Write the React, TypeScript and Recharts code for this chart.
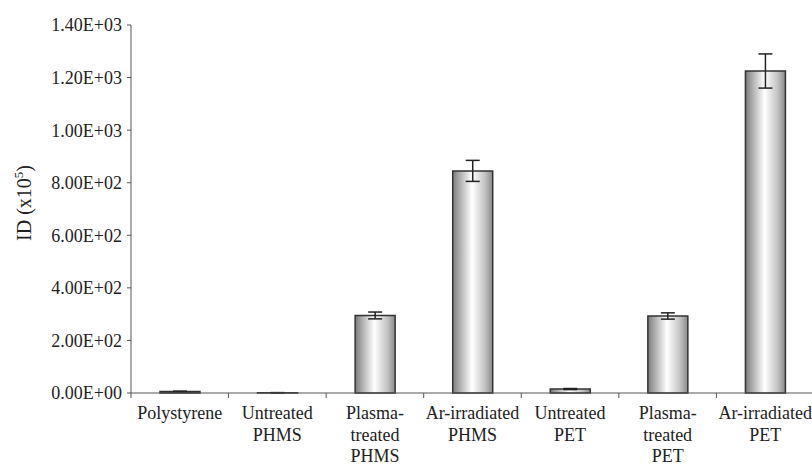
import React from 'react';
import { BarChart, Bar, XAxis, YAxis, ErrorBar } from 'recharts';

const categories = [
  'Polystyrene',
  'Untreated\nPHMS',
  'Plasma-\ntreated\nPHMS',
  'Ar-irradiated\nPHMS',
  'Untreated\nPET',
  'Plasma-\ntreated\nPET',
  'Ar-irradiated\nPET',
];
const idValues = [6, 1, 295, 845, 15, 293, 1225];
const idErrors = [1, 0.5, 13, 40, 2, 12, 65];
const yTicks = [0, 200, 400, 600, 800, 1000, 1200, 1400];

const data = categories.map((name, i) => ({ name, id: idValues[i], err: idErrors[i] }));

const CHART_W = 814;
const CHART_H = 466;
const AXIS_W = 131;
const BAND = (CHART_W - AXIS_W) / categories.length;
const FONT = '"Liberation Serif", "Times New Roman", serif';

// 1.40E+03 style
const sciFormat = (v: number) => {
  if (v === 0) return '0.00E+00';
  const exp = Math.floor(Math.log10(Math.abs(v)));
  const mant = v / Math.pow(10, exp);
  const sign = exp < 0 ? '-' : '+';
  return `${mant.toFixed(2)}E${sign}${String(Math.abs(exp)).padStart(2, '0')}`;
};

const CategoryTick = ({ x, y, payload }: any) => {
  const lines = String(payload.value).split('\n');
  return (
    <g>
      <line x1={x - BAND / 2} x2={x - BAND / 2} y1={y} y2={y + 5} stroke="#555" strokeWidth={1} />
      <text x={x} y={y} textAnchor="middle" fill="#222" fontSize={18} fontFamily={FONT}>
        {lines.map((l, i) => (
          <tspan key={i} x={x} dy={i === 0 ? 26 : 21.5}>
            {l}
          </tspan>
        ))}
      </text>
    </g>
  );
};

const YLabel = ({ viewBox }: any) => {
  const cx = viewBox.x + 31;
  const cy = viewBox.y + viewBox.height / 2 - 6;
  return (
    <text
      x={cx}
      y={cy}
      transform={`rotate(-90, ${cx}, ${cy})`}
      textAnchor="middle"
      fill="#222"
      fontSize={20}
      fontFamily={FONT}
    >
      ID (x10
      <tspan dy={-8} fontSize={13}>5</tspan>
      <tspan dy={8}>)</tspan>
    </text>
  );
};

export default function App() {
  return (
    <div
      style={{
        position: 'absolute',
        left: 0,
        top: 0,
        width: 812,
        height: 466,
        overflow: 'hidden',
        background: '#fff',
      }}
    >
      <BarChart width={CHART_W} height={CHART_H} data={data} margin={{ top: 25, right: 0, left: 0, bottom: 0 }}>
        <defs>
          <linearGradient id="barShade" x1="0" y1="0" x2="1" y2="0">
            <stop offset="0%" stopColor="#7c7c7c" />
            <stop offset="20%" stopColor="#b4b4b4" />
            <stop offset="48%" stopColor="#ffffff" />
            <stop offset="80%" stopColor="#c4c4c4" />
            <stop offset="100%" stopColor="#8a8a8a" />
          </linearGradient>
        </defs>
        <XAxis
          dataKey="name"
          height={CHART_H - 25 - 368}
          interval={0}
          tickLine={false}
          tickSize={0}
          tickMargin={0}
          tick={<CategoryTick />}
          axisLine={{ stroke: '#555', strokeWidth: 1 }}
        />
        <YAxis
          width={AXIS_W}
          domain={[0, 1400]}
          ticks={yTicks}
          interval={0}
          tickFormatter={sciFormat}
          tickSize={4}
          tickMargin={5}
          tick={{ fill: '#222', fontSize: 18, fontFamily: FONT }}
          tickLine={{ stroke: '#555' }}
          axisLine={{ stroke: '#555', strokeWidth: 1 }}
          label={{ content: <YLabel /> }}
        />
        <Bar dataKey="id" barSize={40} fill="url(#barShade)" stroke="#333" strokeWidth={1.5} isAnimationActive={false}>
          <ErrorBar dataKey="err" width={7} stroke="#222" strokeWidth={1.5} isAnimationActive={false} />
        </Bar>
      </BarChart>
    </div>
  );
}
